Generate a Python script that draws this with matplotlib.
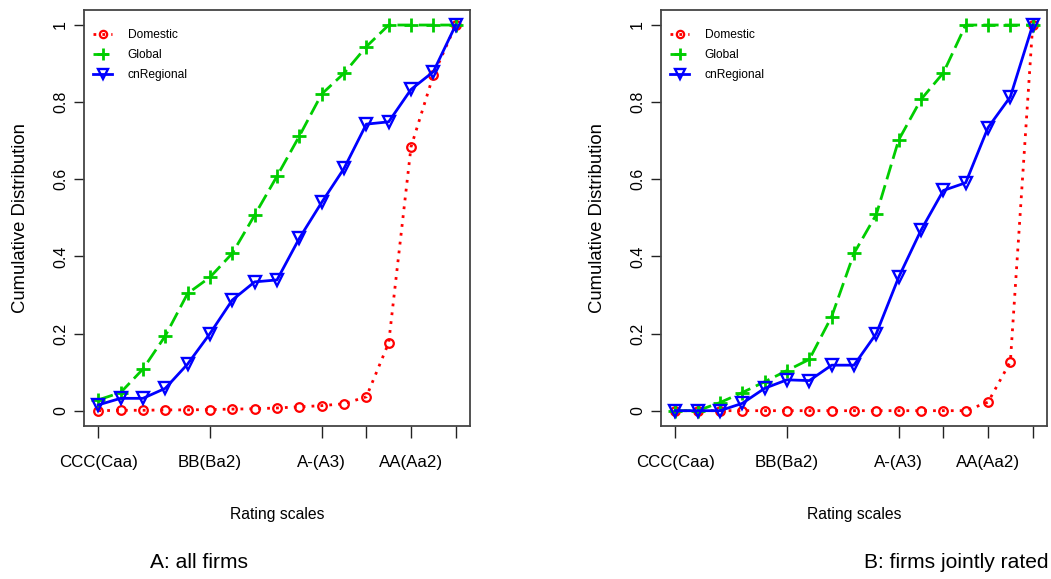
import matplotlib
matplotlib.use("Agg")
import matplotlib.pyplot as plt
from matplotlib import font_manager

# ---------------- data ----------------
rating_idx = list(range(1, 18))
tick_positions = [1, 6, 11, 13, 15, 17]
tick_labels = ["CCC(Caa)", "BB(Ba2)", "A-(A3)", "", "AA(Aa2)", ""]
y_ticks = [0, 0.2, 0.4, 0.6, 0.8, 1.0]
y_tick_labels = ["0", "0.2", "0.4", "0.6", "0.8", "1"]
series_names = ["Domestic", "Global", "cnRegional"]

# Panel A: all firms
a_domestic = [0.0, 0.001, 0.001, 0.002, 0.002, 0.003, 0.004, 0.005, 0.007, 0.010,
              0.013, 0.018, 0.036, 0.176, 0.684, 0.870, 1.0]
a_global = [0.028, 0.047, 0.108, 0.194, 0.304, 0.346, 0.408, 0.507, 0.608, 0.712,
            0.821, 0.875, 0.944, 1.0, 1.0, 1.0, 1.0]
a_regional = [0.015, 0.032, 0.032, 0.058, 0.121, 0.200, 0.287, 0.334, 0.339, 0.447,
              0.540, 0.628, 0.743, 0.749, 0.833, 0.879, 1.0]

# Panel B: firms jointly rated
b_domestic = [0.0, 0.0, 0.0, 0.0, 0.0, 0.0, 0.0, 0.0, 0.0, 0.0,
              0.0, 0.0, 0.0, 0.0, 0.022, 0.127, 1.0]
b_global = [0.0, 0.0, 0.021, 0.047, 0.075, 0.104, 0.133, 0.244, 0.408, 0.509,
            0.702, 0.807, 0.876, 1.0, 1.0, 1.0, 1.0]
b_regional = [0.0, 0.0, 0.0, 0.019, 0.058, 0.080, 0.078, 0.118, 0.118, 0.200,
              0.346, 0.468, 0.571, 0.591, 0.734, 0.814, 1.0]

panel_titles = ["A: all firms", "B: firms jointly rated"]
x_label = "Rating scales"
y_label = "Cumulative Distribution"

# ---------------- fonts ----------------
available = {f.name for f in font_manager.fontManager.ttflist}
NARROW = "Liberation Sans Narrow" if "Liberation Sans Narrow" in available else "Liberation Sans"
REG = "Liberation Sans" if "Liberation Sans" in available else "DejaVu Sans"
narrow_scale = 1.0 if NARROW == "Liberation Sans Narrow" else 0.82

RED = "#FF0000"
GREEN = "#00CD00"
BLUE = "#0000FF"

W, H = 1051, 579
fig = plt.figure(figsize=(W / 100, H / 100), dpi=100)

def px_axes(left, top, right, bottom):
    return fig.add_axes([left / W, 1 - bottom / H, (right - left) / W, (bottom - top) / H])

panels = [
    (px_axes(84, 9.6, 470, 426.1), a_domestic, a_global, a_regional),
    (px_axes(661, 9.6, 1047, 426.1), b_domestic, b_global, b_regional),
]

for ax, dom, glo, reg in panels:
    ax.plot(rating_idx, dom, color=RED, lw=2.0, linestyle=(0, (1.0, 2.2)),
            marker="o", markersize=6.2, markerfacecolor="none", markeredgewidth=1.6,
            label=series_names[0])
    ax.plot(rating_idx, glo, color=GREEN, lw=2.0, linestyle=(0, (5.5, 2.2)),
            marker="+", markersize=10, markeredgewidth=2.0, label=series_names[1])
    ax.plot(rating_idx, reg, color=BLUE, lw=2.0, linestyle="-",
            marker="v", markersize=8.3, markerfacecolor="none", markeredgewidth=1.7,
            label=series_names[2])

    ax.set_xlim(1 - 0.64, 17 + 0.64)
    ax.set_ylim(-0.04, 1.04)

    ax.set_xticks(tick_positions)
    ax.set_xticklabels(tick_labels, fontfamily=NARROW, fontsize=14.8 * narrow_scale)
    ax.set_yticks(y_ticks)
    ax.set_yticklabels(y_tick_labels, fontfamily=REG, fontsize=11.5, rotation=90,
                       va="center")
    ax.tick_params(axis="x", direction="out", length=8.5, width=1.0, pad=12,
                   color="#222222")
    ax.tick_params(axis="y", direction="out", length=7.5, width=1.0, pad=4,
                   color="#222222")
    for sp in ax.spines.values():
        sp.set_color("#444444")
        sp.set_linewidth(1.3)

    ax.set_xlabel(x_label, fontfamily=NARROW, fontsize=13.8 * narrow_scale, va="center")
    ax.xaxis.set_label_coords(0.5, -0.213)
    ax.set_ylabel(y_label, fontfamily=REG, fontsize=13.3, va="center")
    ax.yaxis.set_label_coords(-0.165, 0.5)

    ax.legend(loc="upper left", bbox_to_anchor=(0.0, 0.974), frameon=False,
              prop={"family": NARROW, "size": 10.5 * narrow_scale},
              handlelength=1.6, handletextpad=1.3, labelspacing=0.64,
              borderaxespad=0.45, borderpad=0.3, markerscale=0.85)

fig.text(199 / W, 1 - 563 / H, panel_titles[0], fontfamily=NARROW,
         fontsize=18.4 * narrow_scale, ha="center", va="center")
fig.text(1049 / W, 1 - 563 / H, panel_titles[1], fontfamily=NARROW,
         fontsize=18.4 * narrow_scale, ha="right", va="center")

fig.savefig("out.png", dpi=100)
